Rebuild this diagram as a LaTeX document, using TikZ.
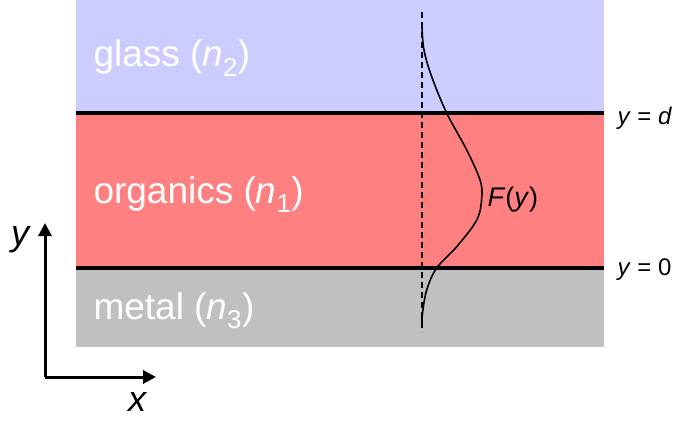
\documentclass[tikz,border=0pt]{standalone}
\usepackage{fontspec}
\setmainfont{Liberation Sans}
\usetikzlibrary{arrows.meta}
\definecolor{glassc}{RGB}{204,204,255}
\definecolor{orgc}{RGB}{255,128,128}
\definecolor{metalc}{RGB}{192,192,192}
\begin{document}
\begin{tikzpicture}[x=1pt, y=-1pt]
  \tikzstyle{layer}=[anchor=base west,text=white,font=\fontsize{37}{40}\selectfont]
  \tikzstyle{lbl}=[font=\fontsize{24}{28}\selectfont]
  \tikzstyle{axlbl}=[font=\fontsize{36}{40}\selectfont\itshape]
  \tikzstyle{iface}=[line width=4pt]
  \useasboundingbox (0,0) rectangle (677,425);
  % layers
  \fill[glassc] (76,0) rectangle (604,113);
  \fill[orgc] (76,113) rectangle (604,268);
  \fill[metalc] (76,268) rectangle (604,347);
  \draw[iface] (76,113) -- (604,113);
  \draw[iface] (76,268) -- (604,268);
  \node[layer] (glass) at (90,67) {glass (\textit{n}\textsubscript{2})};
  \node[layer] (org) at (90,203) {organics (\textit{n}\textsubscript{1})};
  \node[layer] (metal) at (90,319) {metal (\textit{n}\textsubscript{3})};
  % field profile
  \draw[line width=1.6pt,dash pattern=on 6pt off 4pt] (422,12) -- (422,332);
  \draw[line width=1.6pt] plot[smooth,tension=0.6] coordinates {(422,27) (424,50) (431.7,76.7) (446.7,113) (466.7,150) (480,180) (481.7,198) (476.7,220) (456.7,246.7) (436.7,268) (426.7,290) (422.5,313) (422,322)};
  \node[lbl,anchor=west,font=\fontsize{27}{30}\selectfont] (F) at (484,200) {\textit{F}(\textit{y})};
  \node[lbl,anchor=west] (yd) at (614,118) {\textit{y} = \textit{d}};
  \node[lbl,anchor=west] (y0) at (614,270) {\textit{y} = 0};
  % axes
  \coordinate (o) at (45,377);
  \coordinate (ytip) at (45,223);
  \coordinate (xtip) at (156,377);
  \draw[line width=3pt,-{Triangle[length=13pt,width=13pt]}] (o) -- (ytip);
  \draw[line width=3pt,-{Triangle[length=13pt,width=13pt]}] (o) -- (xtip);
  \node[axlbl] (ylab) at (20,240) {y};
  \node[axlbl] (xlab) at (137,402) {x};
\end{tikzpicture}
\end{document}
